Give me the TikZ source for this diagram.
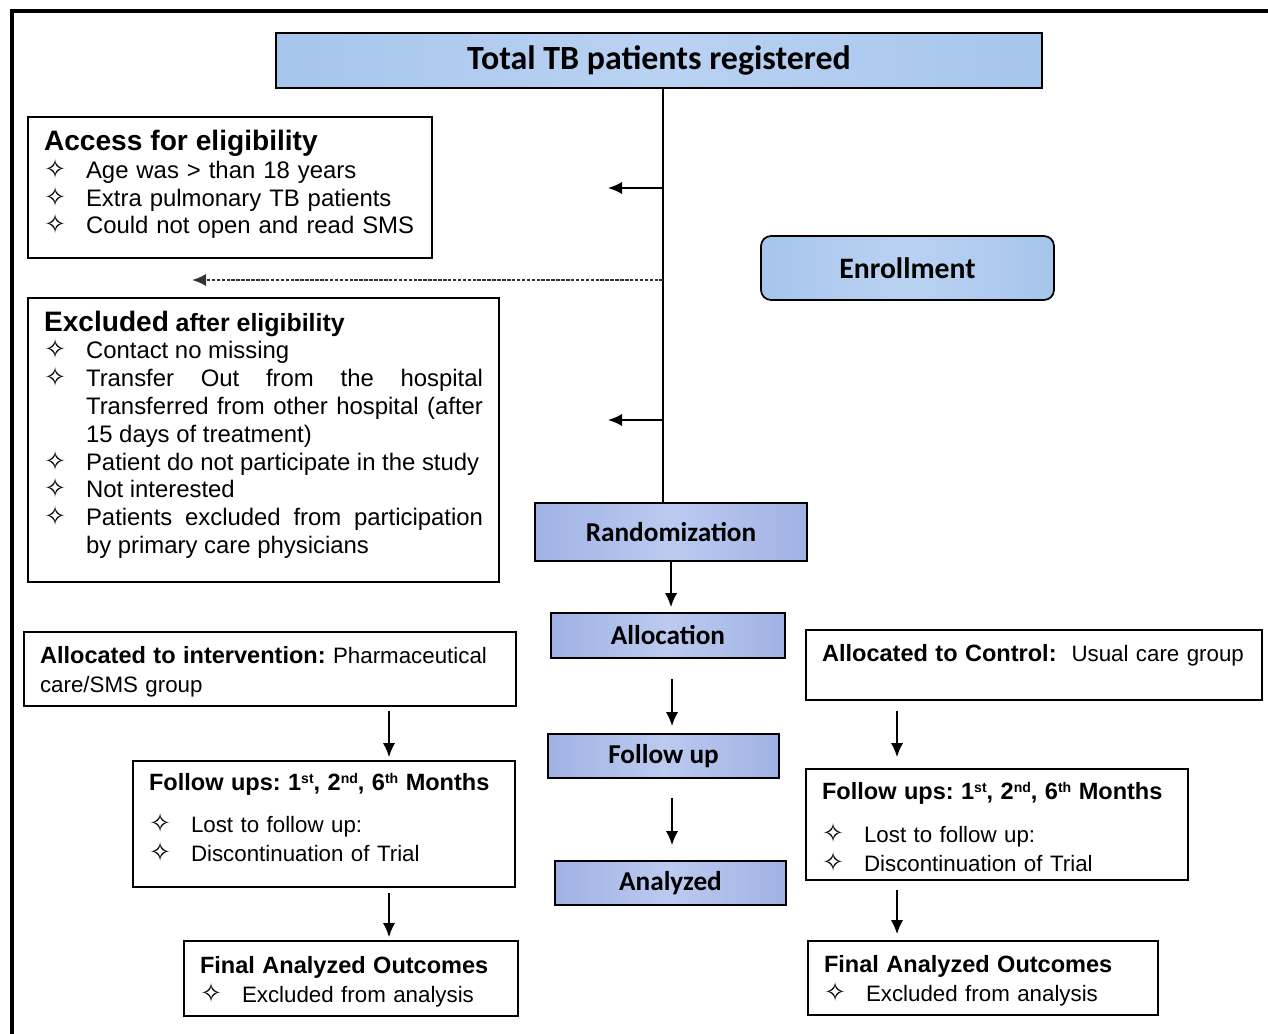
\documentclass[tikz,border=0pt]{standalone}
\usepackage{fontspec}
\setmainfont{Liberation Sans}
\newfontfamily\headfont{Carlito}
\newfontfamily\symfont{DejaVu Sans}
\usetikzlibrary{arrows.meta}
\definecolor{tbblue}{RGB}{166,197,236}
\definecolor{tbbluelight}{RGB}{186,210,242}
\definecolor{stageblue}{RGB}{160,178,228}
\definecolor{stagebluelight}{RGB}{188,202,240}
\newlength{\itmind}
\setlength{\itmind}{0.84cm}
\frenchspacing
\newcommand{\sym}{{\symfont\fontsize{15}{15}\selectfont\char"2727}}
\newcommand{\itm}[1]{\par\noindent\hangindent=\itmind\hangafter=1\makebox[\itmind][l]{\sym}#1}
\newcommand{\nth}[2]{#1\raisebox{0.55ex}{\fontsize{8}{8}\selectfont #2}}
\newcommand{\bigsize}{\fontsize{16}{16.5}\selectfont}
\newcommand{\itemsize}{\fontsize{13.6}{15.8}\selectfont}
\newcommand{\lowsize}{\fontsize{12.7}{16.4}\selectfont}
\newcommand{\lowhead}{\fontsize{13.4}{16.4}\selectfont\bfseries}
\tikzset{
    common/.style={draw, rectangle, line width=1pt, inner ysep=0pt},
    stage/.style={common, inner xsep=0pt, font=\headfont\bfseries\fontsize{15.5}{18}\selectfont,
        left color=stageblue, right color=stageblue, middle color=stagebluelight},
    textbox/.style={common, inner xsep=0.32cm, align=left, font=\itemsize},
    lowbox/.style={textbox, font=\lowsize},
    flow/.style={-{Latex[length=8pt,width=7pt]}, line width=1pt},
}

\begin{document}
\begin{tikzpicture}[x=0.02cm, y=-0.02cm]
    \useasboundingbox (0,0) rectangle (1268,1034);
    \draw[line width=2pt] (12,1034) -- (12,11) -- (1268,11);

    % stages
    \node[stage, minimum width=15.32cm, minimum height=1.1cm, font=\headfont\bfseries\fontsize{19.3}{22}\selectfont,
        left color=tbblue, right color=tbblue, middle color=tbbluelight] (total) at (659,60.5) {Total TB patients registered};
    \node[stage, minimum width=5.86cm, minimum height=1.28cm, rounded corners=0.2cm, font=\headfont\bfseries\fontsize{16.9}{20}\selectfont,
        left color=tbblue, right color=tbblue, middle color=tbbluelight] (enroll) at (907.5,268) {Enrollment};
    \node[stage, minimum width=5.44cm, minimum height=1.16cm] (random) at (671,532) {Randomization};
    \node[stage, minimum width=4.68cm, minimum height=0.9cm] (alloc) at (668,635.5) {Allocation};
    \node[stage, minimum width=4.62cm, minimum height=0.88cm] (follow) at (663.5,756) {Follow up};
    \node[stage, minimum width=4.62cm, minimum height=0.88cm] (analyzed) at (670.5,883) {Analyzed};

    % eligibility
    \node[textbox, text width=7.44cm, minimum height=2.82cm] (access) at (230,187.5) {%
        {\bigsize\bfseries Access for eligibility}
        \itm{Age was > than 18 years}
        \itm{Extra pulmonary TB patients}
        \itm{Could not open and read SMS}\par\kern3.4pt};
    \node[textbox, align=justify, text width=8.78cm, minimum height=5.68cm] (excl) at (263.5,440) {%
        {\bigsize\bfseries Excluded} {\fontsize{14.2}{16}\selectfont\bfseries after eligibility}
        \itm{Contact no missing}
        \itm{Transfer Out from the hospital\linebreak Transferred from other hospital (after 15 days of treatment)}
        \itm{Patient do not participate in the study}
        \itm{Not interested}
        \itm{Patients excluded from participation\linebreak by primary care physicians}\par\kern6.2pt};

    % intervention arm
    \node[lowbox, text width=9.2cm, minimum height=1.48cm] (intv) at (270,669) {%
        {\lowhead Allocated to intervention:} Pharmaceutical care/SMS group\par\kern-3.4pt};
    \node[lowbox, text width=7cm, minimum height=2.52cm] (fuL) at (324,824) {%
        \mbox{\lowhead Follow ups: \nth{1}{st}, \nth{2}{nd}, \nth{6}{th} Months}\par\vspace{8pt}
        \itm{Lost to follow up:}
        \itm{Discontinuation of Trial}\par\kern7.4pt};
    \node[lowbox, text width=6.04cm, minimum height=1.5cm] (finL) at (351,978.5) {%
        {\lowhead Final Analyzed Outcomes}
        \itm{Excluded from analysis}\par\kern-3.4pt};

    % control arm
    \node[lowbox, text width=8.48cm, minimum height=1.4cm] (ctrl) at (1034,665) {%
        {\lowhead Allocated to Control:}\ \ Usual care group\par\kern11.3pt};
    \node[lowbox, text width=7cm, minimum height=2.22cm] (fuR) at (997,824.5) {%
        \mbox{\lowhead Follow ups: \nth{1}{st}, \nth{2}{nd}, \nth{6}{th} Months}\par\vspace{8pt}
        \itm{Lost to follow up:}
        \itm{Discontinuation of Trial}\par\kern-2.8pt};
    \node[lowbox, text width=6.36cm, minimum height=1.48cm] (finR) at (983,978) {%
        {\lowhead Final Analyzed Outcomes}
        \itm{Excluded from analysis}\par\kern-3.4pt};

    % connectors
    \coordinate (trunk) at (663,0);
    \coordinate (mid) at (672,0);
    \coordinate (lcol) at (389,0);
    \coordinate (rcol) at (897,0);
    \coordinate (accarrow) at (608,188);
    \coordinate (dotarrow) at (192,280);
    \coordinate (exclarrow) at (608,420);

    \draw[line width=1pt] (total.south -| trunk) -- (random.north -| trunk);
    \draw[flow] (accarrow -| trunk) -- (accarrow);
    \draw[flow, line width=1.2pt, black!80, dash pattern=on 2pt off 0.8pt] (dotarrow -| trunk) -- (dotarrow);
    \draw[flow] (exclarrow -| trunk) -- (exclarrow);

    \draw[flow, shorten >=0.1cm] (random.south) -- (random.south |- alloc.north);
    \draw[flow, shorten <=0.4cm, shorten >=0.14cm] (alloc.south -| mid) -- (follow.north -| mid);
    \draw[flow, shorten <=0.38cm, shorten >=0.3cm] (follow.south -| mid) -- (analyzed.north -| mid);

    \draw[flow, shorten <=0.08cm, shorten >=0.06cm] (intv.south -| lcol) -- (fuL.north -| lcol);
    \draw[flow, shorten <=0.1cm, shorten >=0.06cm] (fuL.south -| lcol) -- (finL.north -| lcol);
    \draw[flow, shorten <=0.2cm, shorten >=0.22cm] (ctrl.south -| rcol) -- (fuR.north -| rcol);
    \draw[flow, shorten <=0.18cm, shorten >=0.12cm] (fuR.south -| rcol) -- (finR.north -| rcol);
\end{tikzpicture}
\end{document}
